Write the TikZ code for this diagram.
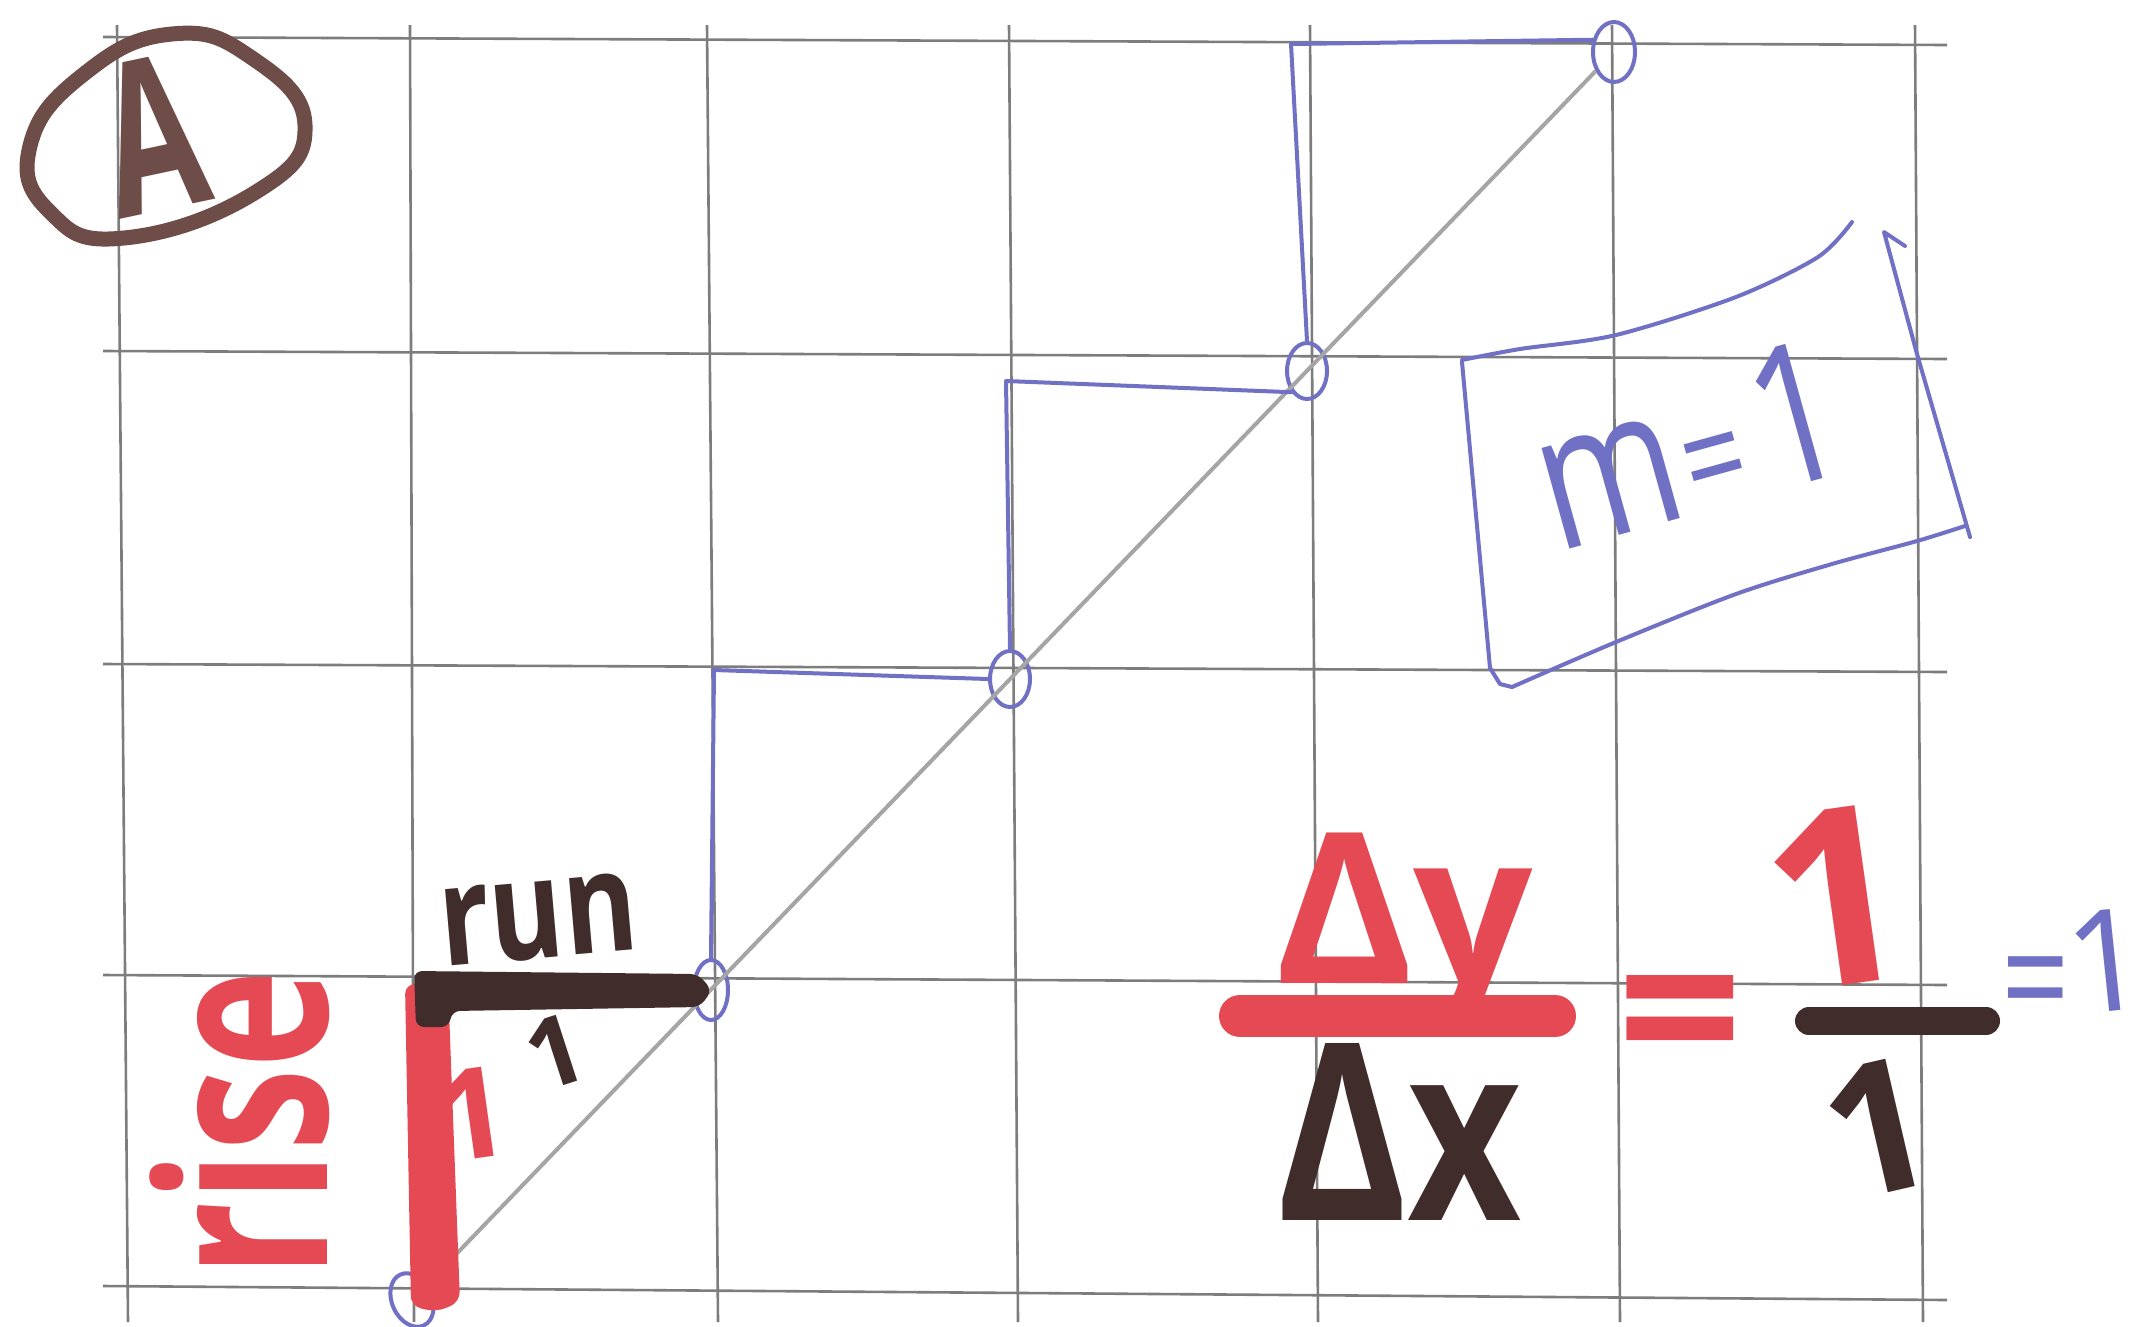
\documentclass[tikz,border=0pt]{standalone}
\usepackage{fontspec}
\setmainfont{Open Sans}
\usetikzlibrary{shapes.geometric}
\newcommand\fsz[1]{\fontsize{#1}{#1}\selectfont}
\definecolor{mred}{RGB}{229,74,84}
\definecolor{mbrown}{RGB}{64,44,42}
\definecolor{abrown}{RGB}{110,76,72}
\definecolor{pblue}{RGB}{112,112,196}
\definecolor{gridc}{RGB}{125,125,125}
\definecolor{diagc}{RGB}{165,165,165}
\begin{document}
\begin{tikzpicture}[x=1pt,y=-1pt,
  lbl/.style={inner sep=0pt, outer sep=0pt},
  gridline/.style={gridc, line width=2.6pt},
  bluepen/.style={pblue, line width=4pt, line cap=round, line join=round},
  ptmark/.style={draw=pblue, line width=4pt, ellipse, inner sep=0pt, minimum width=40pt, minimum height=56pt}]
\useasboundingbox (0,0) rectangle (2155,1326);
\fill[white] (0,0) rectangle (2155,1326);
% grid
\foreach \xt/\xb in {117/128, 410/414, 707/718, 1009/1018, 1310/1318, 1612/1620, 1915/1923}
  \draw[gridline] (\xt,25) -- (\xb,1322);
\foreach \yl/\yr in {37/45, 351/359, 664/672, 975/985, 1286/1300}
  \draw[gridline] (103,\yl) -- (1947,\yr);
% points
\node[ptmark, rotate=25] (p0) at (412,1300) {};
\node[ptmark, minimum width=34pt, minimum height=60pt] (p1) at (711,990) {};
\node[ptmark] (p2) at (1010,679) {};
\node[ptmark] (p3) at (1307,371) {};
\node[ptmark, minimum width=42pt, minimum height=60pt] (p4) at (1614,52) {};
% diagonal
\draw[diagc, line width=4pt] (p0.center) -- (p4);
% staircase
\coordinate (c1) at (714,670);
\coordinate (c2) at (1006,381);
\coordinate (c3) at (1291,44);
\draw[bluepen] (p1.north) -- (c1) -- (p2.west);
\draw[bluepen] (p2.north) -- (c2) -- (p3.south west);
\draw[bluepen] (p3.north) -- (c3) -- (p4.150);
% rise and run bars
\fill[mred, rounded corners=10pt] (405,984) -- (448,984) -- (460,1302) -- (436,1312) -- (411,1306) -- cycle;
\fill[mbrown, rounded corners=8pt] (414,971) -- (698,974) -- (712,990) -- (700,1007) -- (452,1011) -- (449,1027) -- (416,1027) -- cycle;
% circled A
\draw[abrown, line width=15pt] plot[smooth cycle, tension=0.8] coordinates {(172,34) (252,58) (305,125) (256,192) (124,238) (50,212) (30,146) (84,74)};
\node[lbl, abrown, font=\bfseries\fsz{213}, rotate=12, anchor=base] (tA) at (168,209) {\scalebox{0.67}[1]{A}};
% labels
\node[lbl, mbrown, font=\bfseries\fsz{140}, rotate=5, anchor=base] (trun) at (542,958) {\scalebox{0.8}[1]{run}};
\node[lbl, mred, font=\bfseries\fsz{234}, rotate=90, anchor=base] (trise) at (327,1124) {\scalebox{0.71}[1]{rise}};
\node[lbl, mred, font=\bfseries\fsz{126}, rotate=8, anchor=base] (trise1) at (478,1158) {1};
\node[lbl, mbrown, font=\bfseries\fsz{97}, rotate=18, anchor=base] (trun1) at (566,1085) {1};
% fraction
\node[lbl, mred, font=\bfseries\fsz{210}, anchor=base] (tdy) at (1404,983) {Δy};
\draw[mred, line width=42pt, line cap=round] (1240,1016) -- (1555,1016);
\node[lbl, mbrown, font=\bfseries\fsz{247}, anchor=base] (tdx) at (1400,1220) {\scalebox{0.8}[1]{Δx}};
\node[lbl, mred, font=\bfseries\fsz{220}] (teq) at (1680,1030) {=};
\node[lbl, mred, font=\bfseries\fsz{247}, rotate=8, anchor=base] (tnum) at (1848,985) {1};
\draw[mbrown, line width=28pt, line cap=round] (1809,1021) -- (1986,1021);
\node[lbl, mbrown, font=\bfseries\fsz{183}, rotate=13, anchor=base] (tden) at (1892,1192) {1};
\node[lbl, pblue, font=\fsz{120}] (teq2) at (2036,995) {\scalebox{1}[1.3]{=}};
\node[lbl, pblue, font=\fsz{142}, rotate=6, anchor=base west] (tone2) at (2071,1015) {1};
% m = 1 box
\node[lbl, pblue, font=\fsz{150}, rotate=15.5, anchor=base] (tm) at (1706,511) {\scalebox{1}[1.3]{m\hspace{5pt}{\fsz{110}=}\hspace{16pt}1}};
\draw[bluepen] plot[smooth] coordinates {(1462,360) (1520,349) (1616,335) (1736,297) (1818,257) (1852,222)};
\draw[bluepen] (1462,362) -- (1490,668) -- (1500,684) -- (1512,687);
\draw[bluepen] plot[smooth] coordinates {(1512,687) (1616,642) (1736,594) (1832,564) (1917,541) (1965,526)};
\draw[bluepen] (1905,246) -- (1884,232) -- (1917,354) -- (1970,537);
\end{tikzpicture}
\end{document}
